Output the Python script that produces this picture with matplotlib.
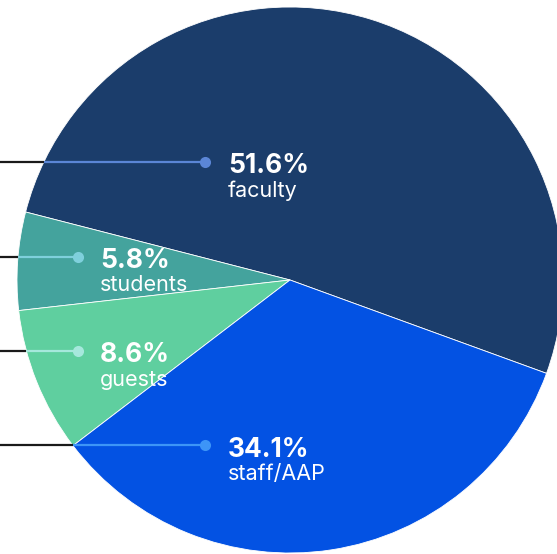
import matplotlib.pyplot as plt

# share of respondents by group
groups = ['faculty', 'students', 'guests', 'staff/AAP']
shares = [51.6, 5.8, 8.6, 34.1]
pct_labels = ['51.6%', '5.8%', '8.6%', '34.1%']

colors = ['#1b3d6b', '#44a39d', '#5fcf9f', '#0352e3']
dot_colors = ['#5b86d6', '#7fd0dc', '#a6e8dc', '#3d95f7']

# callout layout (data units, pie radius = 1)
line_y = [0.432, 0.086, -0.260, -0.606]
dot_x = [-0.311, -0.777, -0.777, -0.310]
text_x = [-0.227, -0.696, -0.696, -0.227]

plt.rcParams['font.family'] = ['Inter', 'DejaVu Sans']

fig = plt.figure(figsize=(5.57, 5.54), dpi=100)
ax = fig.add_axes([0, 0, 1, 1])

ax.pie(shares, colors=colors, startangle=-20, counterclock=True,
       radius=1, wedgeprops=dict(edgecolor='white', linewidth=0.6))

x_left = -290 / 273
for i in range(len(groups)):
    y = line_y[i]
    edge_x = -(1 - y ** 2) ** 0.5
    # black line from the border to the pie edge
    ax.plot([x_left, edge_x], [y, y], color='#1a1a1a', lw=1.6,
            solid_capstyle='butt', clip_on=False)
    # coloured line to the dot
    ax.plot([edge_x, dot_x[i]], [y, y], color=dot_colors[i], lw=1.6,
            solid_capstyle='butt')
    ax.plot(dot_x[i], y, 'o', color=dot_colors[i], ms=8, mew=0)
    ax.text(text_x[i], y - 0.041, pct_labels[i], color='white',
            fontsize=19, fontweight='bold', va='baseline', ha='left')
    ax.text(text_x[i], y - 0.128, groups[i], color='white',
            fontsize=15.5, va='baseline', ha='left')

ax.set_xlim(x_left, 267 / 273)
ax.set_ylim(-274 / 273, 280 / 273)
ax.set_aspect('auto')
ax.axis('off')

fig.savefig('out.png', dpi=100)
